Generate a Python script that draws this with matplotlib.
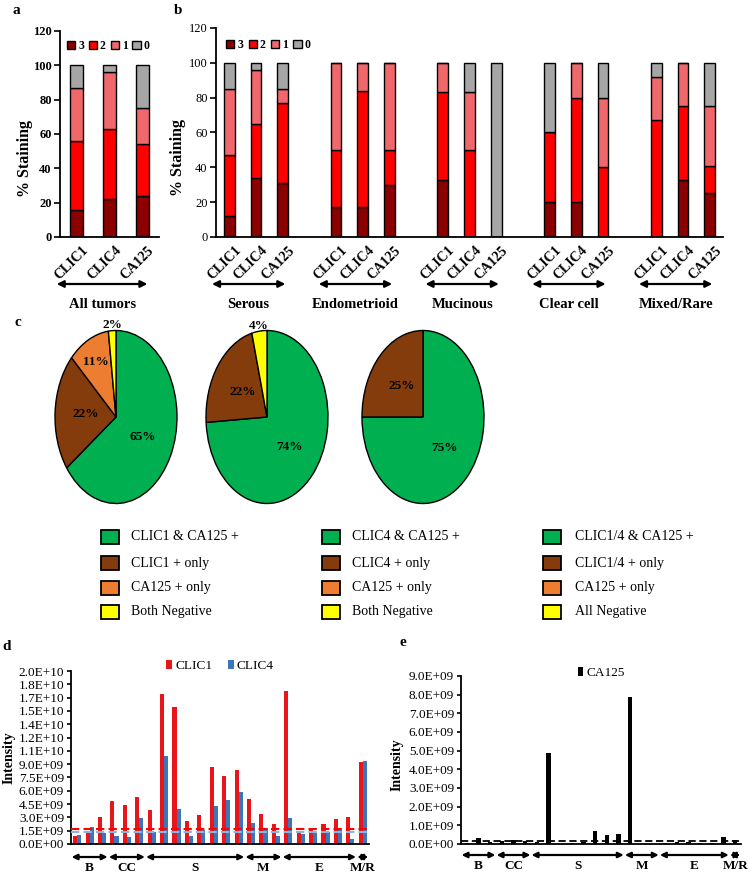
import numpy as np
import matplotlib
matplotlib.use('Agg')
import matplotlib.pyplot as plt
import matplotlib.transforms as mtransforms
from matplotlib.patches import Rectangle

plt.rcParams['font.family'] = ['Liberation Serif', 'DejaVu Serif']
plt.rcParams['axes.linewidth'] = 1.3

# ---------------- data ----------------
a_categories = ['CLIC1', 'CLIC4', 'CA125']
a_score3 = [16, 22, 24]
a_score2 = [40, 41, 30]
a_score1 = [31, 33, 21]
a_score0 = [13, 4, 25]

b_groups = ['Serous', 'Endometrioid', 'Mucinous', 'Clear cell', 'Mixed/Rare']
b_markers = ['CLIC1', 'CLIC4', 'CA125']
b_score3 = [12, 34, 31, 17, 17, 30, 33, 0, 0, 20, 20, 0, 0, 33, 25]
b_score2 = [35, 31, 46, 33, 67, 20, 50, 50, 0, 40, 60, 40, 67, 42, 16]
b_score1 = [38, 31, 8, 50, 16, 50, 17, 33, 0, 0, 20, 40, 25, 25, 34]
b_score0 = [15, 4, 15, 0, 0, 0, 0, 17, 100, 40, 0, 20, 8, 0, 25]

score_labels = ['3', '2', '1', '0']

pie1_values = [65, 22, 11, 2]
pie2_values = [74, 22, 0, 4]
pie3_values = [75, 25, 0, 0]
pie1_legend = ['CLIC1 & CA125 +', 'CLIC1 + only', 'CA125 + only', 'Both Negative']
pie2_legend = ['CLIC4 & CA125 +', 'CLIC4 + only', 'CA125 + only', 'Both Negative']
pie3_legend = ['CLIC1/4 & CA125 +', 'CLIC1/4 + only', 'CA125 + only', 'All Negative']

tissue_groups = ['B', 'CC', 'S', 'M', 'E', 'M/R']
tissue_counts = [3, 3, 8, 3, 6, 1]

d_clic1 = [0.94, 1.31, 3.0, 4.87, 4.42, 5.25, 3.79, 16.95, 15.45, 2.59, 3.3, 8.7,
           7.69, 8.36, 5.02, 3.34, 2.29, 17.2, 1.39, 1.65, 2.25, 2.77, 3.0, 9.26]
d_clic4 = [1.01, 1.87, 1.27, 0.9, 0.79, 2.89, 1.35, 9.97, 3.9, 0.94, 1.57, 4.31,
           4.95, 5.85, 2.32, 1.76, 0.94, 2.89, 1.16, 1.2, 1.31, 1.57, 0.56, 9.41]
d_clic1_cutoff = 1.69
d_clic4_cutoff = 1.31
d_ytick_labels = ['0.0E+00', '1.5E+09', '3.0E+09', '4.5E+09', '6.0E+09', '7.5E+09',
                  '9.0E+09', '1.1E+10', '1.2E+10', '1.4E+10', '1.5E+10', '1.7E+10',
                  '1.8E+10', '2.0E+10']

e_ca125 = [0.05, 0.3, 0.1, 0.15, 0.2, 0.15, 0.1, 4.86, 0.02, 0.03, 0.1, 0.7,
           0.48, 0.55, 7.86, 0.02, 0.02, 0.03, 0.12, 0.1, 0.03, 0.03, 0.4, 0.2]
e_cutoff = 0.15
e_ytick_labels = ['0.0E+00', '1.0E+09', '2.0E+09', '3.0E+09', '4.0E+09', '5.0E+09',
                  '6.0E+09', '7.0E+09', '8.0E+09', '9.0E+09']

# ---------------- styling ----------------
C3, C2, C1, C0 = '#8b0000', '#ff0000', '#f0686c', '#a6a6a6'
GREEN, BROWN, ORANGE, YELLOW = '#00b050', '#843c0c', '#ed7d31', '#ffff00'
RED_D, BLUE_D = '#e8151b', '#3b76ba'

W, H = 750, 873
fig = plt.figure(figsize=(W / 100, H / 100), dpi=100)


def box(l, t, r, b):
    return [l / W, 1 - b / H, (r - l) / W, (b - t) / H]


def fy(y):
    return 1 - y / H


def style_stack_axis(ax, bold):
    ax.set_ylim(0, 120)
    ax.set_yticks(range(0, 121, 20))
    for s in ['top', 'right']:
        ax.spines[s].set_visible(False)
    ax.tick_params(axis='y', direction='out', length=4, width=1.2, pad=2,
                   labelsize=9)
    ax.tick_params(axis='x', length=0, pad=5)
    for t in ax.get_yticklabels():
        t.set_fontweight('bold' if bold else 'normal')
    ax.set_ylabel('% Staining', fontweight='bold', fontsize=11.5)


def draw_stack(ax, x, layers, width):
    bottom = np.zeros(len(x))
    for (vals, col), lab in zip(layers, score_labels):
        vals = np.asarray(vals, dtype=float)
        ax.bar(x, vals, width, bottom=bottom, color=col, edgecolor='black',
               linewidth=1.0, label=lab, zorder=2)
        bottom += vals


def xlabels(ax, x, labels):
    ax.set_xticks(x)
    ax.set_xticklabels(labels, rotation=45, ha='right', va='top',
                       rotation_mode='anchor', fontweight='bold', fontsize=10)
    off = mtransforms.ScaledTranslation(0.05, 0, fig.dpi_scale_trans)
    for t in ax.get_xticklabels():
        t.set_transform(t.get_transform() + off)


def group_arrow(ax, x0, x1, y_arrow, name, y_text, fs, ms):
    tr = mtransforms.blended_transform_factory(ax.transData, fig.transFigure)
    ax.annotate('', xy=(x1, fy(y_arrow)), xytext=(x0, fy(y_arrow)),
                xycoords=tr, textcoords=tr, annotation_clip=False,
                arrowprops=dict(arrowstyle='<|-|>', color='black', lw=1.6,
                                mutation_scale=ms, shrinkA=0, shrinkB=0))
    ax.text((x0 + x1) / 2, fy(y_text), name, transform=tr, ha='center',
            va='center', fontweight='bold', fontsize=fs, clip_on=False)


# ---------------- panel a ----------------
ax_a = fig.add_axes(box(60, 31, 159, 237))
xa = np.arange(len(a_categories))
draw_stack(ax_a, xa, [(a_score3, C3), (a_score2, C2), (a_score1, C1), (a_score0, C0)], 0.4)
ax_a.set_xlim(-0.5, 2.5)
style_stack_axis(ax_a, bold=True)
xlabels(ax_a, xa, a_categories)
ax_a.yaxis.set_label_coords(-0.27, 0.38)
ax_a.legend(loc='upper left', bbox_to_anchor=(0.07, 0.955), ncol=4, frameon=False,
            handlelength=0.7, handleheight=0.7, handletextpad=0.25,
            columnspacing=0.4, borderaxespad=0, borderpad=0,
            prop={'weight': 'bold', 'size': 8.5})
group_arrow(ax_a, -0.6, 2.15, 284, 'All tumors', 305, 10.5, 10)

# ---------------- panel b ----------------
ax_b = fig.add_axes(box(216, 28, 723, 237))
xb = np.array([g * 4 + j for g in range(len(b_groups)) for j in range(len(b_markers))])
draw_stack(ax_b, xb, [(b_score3, C3), (b_score2, C2), (b_score1, C1), (b_score0, C0)], 0.4)
ax_b.set_xlim(-0.5, 18.5)
style_stack_axis(ax_b, bold=False)
xlabels(ax_b, xb, b_markers * len(b_groups))
ax_b.yaxis.set_label_coords(-0.059, 0.38)
ax_b.legend(loc='upper left', bbox_to_anchor=(0.02, 0.945), ncol=4, frameon=False,
            handlelength=0.7, handleheight=0.7, handletextpad=0.25,
            columnspacing=0.45, borderaxespad=0, borderpad=0,
            prop={'weight': 'bold', 'size': 8.5})
for g, name in enumerate(b_groups):
    group_arrow(ax_b, g * 4 - 0.65, g * 4 + 2 + 0.1, 284, name, 305, 10.5, 10)

# ---------------- panel c ----------------
pie_colors = [GREEN, BROWN, ORANGE, YELLOW]


def draw_pie(cx, values):
    rx, ry, cy = 61, 86.5, 417
    ax = fig.add_axes(box(cx - rx * 1.02, cy - ry * 1.02, cx + rx * 1.02, cy + ry * 1.02))
    vals = [v for v in values if v > 0]
    cols = [c for v, c in zip(values, pie_colors) if v > 0]
    wedges, _ = ax.pie(vals, colors=cols, startangle=90, counterclock=False,
                       wedgeprops=dict(edgecolor='black', linewidth=1.0))
    for wdg, v in zip(wedges, vals):
        mid = np.deg2rad((wdg.theta1 + wdg.theta2) / 2)
        rr = 0.5 if v >= 20 else (0.72 if v >= 5 else 1.06)
        ax.text(rr * np.cos(mid), rr * np.sin(mid), f'{v}%', ha='center',
                va='center', fontweight='bold', fontsize=9.5)
    ax.set_aspect('auto')
    ax.set_xlim(-1.02, 1.02)
    ax.set_ylim(-1.02, 1.02)
    ax.axis('off')


draw_pie(116, pie1_values)
draw_pie(267, pie2_values)
draw_pie(423, pie3_values)

leg_ax = fig.add_axes([0, 0, 1, 1], zorder=-1)
leg_ax.set_xlim(0, W)
leg_ax.set_ylim(H, 0)
leg_ax.axis('off')
row_y = [537, 563, 588, 612]
for bx, tx, labels in [(101, 131, pie1_legend), (322, 352, pie2_legend), (543, 575, pie3_legend)]:
    for yy, lab, col in zip(row_y, labels, pie_colors):
        leg_ax.add_patch(Rectangle((bx, yy - 7), 18, 14, facecolor=col,
                                   edgecolor='black', linewidth=1.3))
        leg_ax.text(tx, yy, lab, ha='left', va='center', fontsize=10)

# ---------------- panel d ----------------
ax_d = fig.add_axes(box(71, 671, 369, 844))
xd = np.arange(len(d_clic1))
bw = 0.33
ax_d.bar(xd - bw / 2, np.array(d_clic1) * 1e9, bw, color=RED_D, label='CLIC1', zorder=2)
ax_d.bar(xd + bw / 2, np.array(d_clic4) * 1e9, bw, color=BLUE_D, label='CLIC4', zorder=2)
ax_d.axhline(d_clic1_cutoff * 1e9, color='#ff0000', ls=(0, (4, 2)), lw=1.5, zorder=3)
ax_d.axhline(d_clic4_cutoff * 1e9, color='#8db3e2', ls=(0, (4, 2)), lw=1.5, zorder=3)
ax_d.set_xlim(-0.5, len(d_clic1) - 0.5)
ax_d.set_ylim(0, 1.95e10)
ax_d.set_yticks(np.arange(len(d_ytick_labels)) * 1.5e9)
ax_d.set_yticklabels(d_ytick_labels)
ax_d.set_xticks([])
for s in ['top', 'right']:
    ax_d.spines[s].set_visible(False)
ax_d.tick_params(axis='y', direction='out', length=3, width=1.2, pad=2, labelsize=9.5)
ax_d.set_ylabel('Intensity', fontweight='bold', fontsize=10)
ax_d.yaxis.set_label_coords(-0.185, 0.5)
ax_d.legend(loc='center', bbox_to_anchor=(0.5, 1.03), ncol=2, frameon=False,
            handlelength=0.45, handleheight=0.7, handletextpad=0.2,
            columnspacing=1.2, borderaxespad=0, fontsize=9.5)

# ---------------- panel e ----------------
ax_e = fig.add_axes(box(461, 676, 741, 844))
xe = np.arange(len(e_ca125))
ax_e.bar(xe, np.array(e_ca125) * 1e9, 0.35, color='black', label='CA125', zorder=2)
ax_e.axhline(e_cutoff * 1e9, color='black', ls=(0, (4, 2)), lw=1.3, zorder=3)
ax_e.set_xlim(-0.5, len(e_ca125) - 0.5)
ax_e.set_ylim(0, 9e9)
ax_e.set_yticks(np.arange(len(e_ytick_labels)) * 1e9)
ax_e.set_yticklabels(e_ytick_labels)
ax_e.set_xticks([])
for s in ['top', 'right']:
    ax_e.spines[s].set_visible(False)
ax_e.tick_params(axis='y', direction='out', length=3, width=1.2, pad=2, labelsize=9.5)
ax_e.set_ylabel('Intensity', fontweight='bold', fontsize=10)
ax_e.yaxis.set_label_coords(-0.205, 0.47)
ax_e.legend(loc='center', bbox_to_anchor=(0.5, 1.02), ncol=1, frameon=False,
            handlelength=0.45, handleheight=0.7, handletextpad=0.2,
            borderaxespad=0, fontsize=9.5)

# group arrows under d and e
starts = np.concatenate([[0], np.cumsum(tissue_counts)[:-1]])
for ax, ya, yt in [(ax_d, 857, 868), (ax_e, 855, 866)]:
    for name, st, cnt in zip(tissue_groups, starts, tissue_counts):
        group_arrow(ax, st - 0.45, st + cnt - 1 + 0.45, ya, name, yt, 9.5, 8)

# ---------------- panel letters ----------------
for letter, x, y in [('a', 16, 10), ('b', 178, 10), ('c', 18, 323), ('d', 7, 646), ('e', 403, 643)]:
    fig.text(x / W, fy(y), letter, ha='center', va='center', fontweight='bold', fontsize=11)

fig.savefig('out.png', dpi=100)
